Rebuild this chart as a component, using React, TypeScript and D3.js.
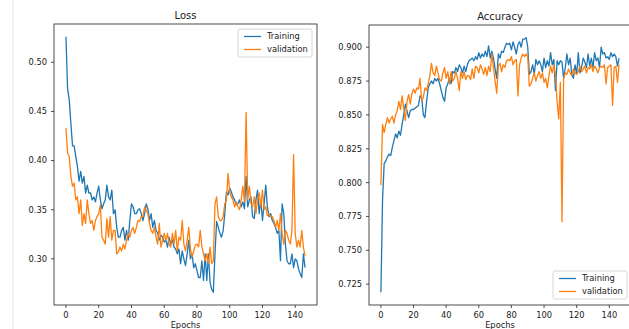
import React from 'react';
import * as d3 from 'd3';

// values, one per epoch (0..146)
const lossTrain = [
  0.526, 0.473, 0.462, 0.438, 0.415, 0.415, 0.404, 0.394, 0.379, 0.389, 0.377, 0.384, 0.367, 0.375, 0.367, 0.367, 0.360, 0.363, 0.358, 0.367, 0.374, 0.360, 0.351, 0.356,
  0.360, 0.375, 0.363, 0.360, 0.370, 0.346, 0.350, 0.332, 0.322, 0.322, 0.329, 0.332, 0.319, 0.329, 0.319, 0.339, 0.356, 0.353, 0.346, 0.346, 0.350, 0.351, 0.346, 0.339, 0.346, 0.356, 0.351, 0.339, 0.346, 0.332, 0.339, 0.329, 0.326, 0.319, 0.324,
  0.322, 0.317, 0.319, 0.312, 0.322, 0.315, 0.319, 0.312, 0.310, 0.305, 0.310, 0.295, 0.308, 0.300, 0.293, 0.305, 0.319, 0.300, 0.305, 0.291, 0.295, 0.288, 0.281, 0.281, 0.298, 0.278, 0.305, 0.278, 0.305, 0.276, 0.269, 0.266, 0.305, 0.338, 0.332, 0.326, 0.322, 0.329, 0.346,
  0.368, 0.365, 0.372, 0.368, 0.363, 0.360, 0.355, 0.356, 0.360, 0.353, 0.358, 0.351, 0.384, 0.353, 0.360, 0.363, 0.343, 0.341, 0.360, 0.370, 0.346, 0.360, 0.339, 0.356, 0.375, 0.353, 0.343, 0.346, 0.339, 0.336, 0.332, 0.326, 0.329, 0.298, 0.356, 0.346, 0.315, 0.298, 0.295, 0.295, 0.305, 0.291, 0.300, 0.298, 0.290, 0.285, 0.281, 0.305, 0.291,
];

const lossVal = [
  0.433, 0.408, 0.404, 0.384, 0.374, 0.377, 0.360, 0.363, 0.346, 0.360, 0.334, 0.346, 0.336, 0.360, 0.346, 0.336, 0.339, 0.329, 0.339, 0.343, 0.346, 0.355, 0.322, 0.319,
  0.315, 0.341, 0.322, 0.343, 0.319, 0.329, 0.329, 0.305, 0.307, 0.312, 0.308, 0.315, 0.310, 0.319, 0.326, 0.322, 0.329, 0.332, 0.326, 0.332, 0.339, 0.338, 0.343, 0.343, 0.353, 0.350, 0.346, 0.336, 0.329, 0.326, 0.332, 0.322, 0.315, 0.336, 0.312,
  0.319, 0.326, 0.319, 0.326, 0.315, 0.312, 0.326, 0.315, 0.329, 0.308, 0.322, 0.319, 0.339, 0.315, 0.308, 0.319, 0.332, 0.310, 0.302, 0.308, 0.314, 0.315, 0.312, 0.329, 0.312, 0.305, 0.298, 0.305, 0.295, 0.312, 0.295, 0.298, 0.356, 0.363, 0.343, 0.339, 0.339, 0.343, 0.356,
  0.360, 0.387, 0.368, 0.363, 0.360, 0.353, 0.358, 0.353, 0.350, 0.360, 0.374, 0.358, 0.449, 0.360, 0.374, 0.356, 0.353, 0.363, 0.346, 0.360, 0.367, 0.353, 0.370, 0.350, 0.353, 0.344, 0.346, 0.343, 0.343, 0.339, 0.332, 0.339, 0.329, 0.346, 0.326, 0.315, 0.329, 0.326, 0.319, 0.315, 0.329, 0.406, 0.326, 0.312, 0.319, 0.312, 0.329, 0.312, 0.303,
];

const accTrain = [
  0.719, 0.787, 0.814, 0.816, 0.819, 0.821, 0.820, 0.826, 0.831, 0.836, 0.833, 0.838, 0.835, 0.843, 0.850, 0.858, 0.853, 0.848, 0.853, 0.854, 0.854, 0.855, 0.856, 0.857,
  0.864, 0.863, 0.850, 0.848, 0.860, 0.870, 0.873, 0.875, 0.873, 0.877, 0.875, 0.877, 0.873, 0.868, 0.863, 0.860, 0.870, 0.873, 0.877, 0.873, 0.882, 0.881, 0.885, 0.882, 0.887, 0.885, 0.881, 0.886, 0.882, 0.887, 0.890, 0.891, 0.892, 0.890, 0.893,
  0.891, 0.896, 0.892, 0.895, 0.893, 0.897, 0.893, 0.901, 0.892, 0.897, 0.892, 0.884, 0.877, 0.895, 0.892, 0.897, 0.896, 0.900, 0.903, 0.902, 0.903, 0.898, 0.904, 0.900, 0.895, 0.902, 0.904, 0.900, 0.906, 0.906, 0.907, 0.900, 0.880, 0.882, 0.887, 0.880, 0.891, 0.887, 0.890,
  0.887, 0.882, 0.892, 0.885, 0.890, 0.886, 0.896, 0.887, 0.891, 0.868, 0.890, 0.887, 0.890, 0.889, 0.877, 0.885, 0.895, 0.887, 0.892, 0.880, 0.877, 0.887, 0.880, 0.896, 0.881, 0.885, 0.892, 0.889, 0.885, 0.895, 0.886, 0.892, 0.885, 0.896, 0.890, 0.892, 0.885, 0.900, 0.895, 0.896, 0.892, 0.893, 0.891, 0.896, 0.893, 0.895, 0.893, 0.886, 0.892,
];

const accVal = [
  0.798, 0.843, 0.837, 0.843, 0.848, 0.844, 0.847, 0.849, 0.844, 0.850, 0.853, 0.860, 0.854, 0.864, 0.855, 0.846, 0.860, 0.865, 0.858, 0.866, 0.869, 0.866, 0.870, 0.869,
  0.877, 0.860, 0.863, 0.870, 0.868, 0.873, 0.879, 0.888, 0.881, 0.879, 0.886, 0.881, 0.876, 0.875, 0.881, 0.885, 0.877, 0.882, 0.873, 0.882, 0.875, 0.877, 0.882, 0.877, 0.868, 0.882, 0.877, 0.882, 0.876, 0.879, 0.879, 0.876, 0.884, 0.877, 0.886,
  0.885, 0.881, 0.887, 0.884, 0.880, 0.885, 0.879, 0.886, 0.882, 0.895, 0.885, 0.875, 0.866, 0.886, 0.888, 0.882, 0.887, 0.885, 0.890, 0.891, 0.890, 0.893, 0.887, 0.890, 0.891, 0.864, 0.887, 0.892, 0.895, 0.893, 0.895, 0.893, 0.871, 0.873, 0.877, 0.881, 0.875, 0.879, 0.882,
  0.877, 0.881, 0.874, 0.877, 0.870, 0.879, 0.886, 0.881, 0.887, 0.880, 0.860, 0.847, 0.874, 0.771, 0.877, 0.881, 0.880, 0.884, 0.881, 0.879, 0.884, 0.881, 0.880, 0.882, 0.886, 0.882, 0.884, 0.886, 0.881, 0.885, 0.884, 0.887, 0.882, 0.886, 0.884, 0.881, 0.885, 0.886, 0.885, 0.887, 0.873, 0.885, 0.886, 0.887, 0.857, 0.885, 0.886, 0.874, 0.887,
];

const xTicks = [0, 20, 40, 60, 80, 100, 120, 140];
const lossTicks = [0.3, 0.35, 0.4, 0.45, 0.5];
const accTicks = [0.725, 0.75, 0.775, 0.8, 0.825, 0.85, 0.875, 0.9];
const seriesNames = ['Training', 'validation'];

const BLUE = '#1f77b4';
const ORANGE = '#ff7f0e';
const FONT = 'DejaVu Sans, sans-serif';
const FS = 8.3;

type PanelProps = {
  title: string;
  train: number[];
  val: number[];
  yTicks: number[];
  fmt: string;
  box: { x0: number; x1: number; y0: number; y1: number };
  legend: { x: number; y: number };
};

const Panel = ({ title, train, val, yTicks, fmt, box, legend }: PanelProps) => {
  const n = train.length - 1;
  const x = d3.scaleLinear().domain([-0.05 * n, n * 1.05]).range([box.x0, box.x1]);
  const [lo, hi] = d3.extent([...train, ...val]) as [number, number];
  const pad = (hi - lo) * 0.05;
  const y = d3.scaleLinear().domain([lo - pad, hi + pad]).range([box.y1, box.y0]);
  const line = d3.line<number>().x((_, i) => x(i)).y((d) => y(d));
  const f = d3.format(fmt);
  const cx = (box.x0 + box.x1) / 2;

  return (
    <g fontFamily={FONT}>
      <path d={line(train) ?? ''} fill="none" stroke={BLUE} strokeWidth={1.3} strokeLinejoin="round" />
      <path d={line(val) ?? ''} fill="none" stroke={ORANGE} strokeWidth={1.3} strokeLinejoin="round" />
      <rect x={box.x0} y={box.y0} width={box.x1 - box.x0} height={box.y1 - box.y0} fill="none" stroke="#222" strokeWidth={0.8} />
      {xTicks.map((t) => (
        <g key={t} transform={`translate(${x(t)},${box.y1})`}>
          <line y2={3} stroke="#222" strokeWidth={0.8} />
          <text y={13} textAnchor="middle" fontSize={FS} fill="#222">{t}</text>
        </g>
      ))}
      {yTicks.map((t) => (
        <g key={t} transform={`translate(${box.x0},${y(t)})`}>
          <line x2={-3} stroke="#222" strokeWidth={0.8} />
          <text x={-7} dy="0.35em" textAnchor="end" fontSize={FS} fill="#222">{f(t)}</text>
        </g>
      ))}
      <text x={cx} y={box.y0 - 5} textAnchor="middle" fontSize={10} fill="#222">{title}</text>
      <text x={cx} y={box.y1 + 23} textAnchor="middle" fontSize={FS} fill="#222">Epochs</text>
      <g transform={`translate(${legend.x},${legend.y})`}>
        <rect width={74} height={28} rx={2} fill="#fff" fillOpacity={0.8} stroke="#cccccc" strokeWidth={0.8} />
        {seriesNames.map((name, i) => (
          <g key={name} transform={`translate(0,${7.5 + i * 13})`}>
            <line x1={6} x2={23} stroke={i === 0 ? BLUE : ORANGE} strokeWidth={1.3} />
            <text x={29} dy="0.35em" fontSize={FS} fill="#222">{name}</text>
          </g>
        ))}
      </g>
    </g>
  );
};

export default function App() {
  return (
    <svg width={629} height={329} style={{ position: 'absolute', left: 0, top: 0, background: '#fff' }}>
      <rect width={629} height={329} fill="#fff" />
      <line x1={13} x2={13} y1={0} y2={329} stroke="#e8e8e8" />
      <Panel
        title="Loss"
        train={lossTrain}
        val={lossVal}
        yTicks={lossTicks}
        fmt=".2f"
        box={{ x0: 54, x1: 317, y0: 24, y1: 305 }}
        legend={{ x: 238, y: 29 }}
      />
      <Panel
        title="Accuracy"
        train={accTrain}
        val={accVal}
        yTicks={accTicks}
        fmt=".3f"
        box={{ x0: 369, x1: 631, y0: 25, y1: 305 }}
        legend={{ x: 553, y: 271 }}
      />
    </svg>
  );
}
